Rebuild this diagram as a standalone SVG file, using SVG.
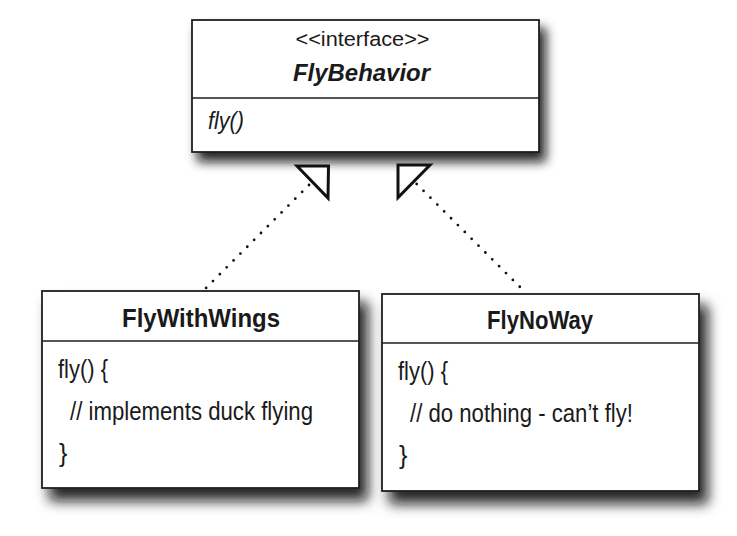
<svg xmlns="http://www.w3.org/2000/svg" width="737" height="536" viewBox="0 0 737 536">
<style>
.box{fill:#fff;stroke:#1e1e1e;stroke-width:1.8}
.div{stroke:#1e1e1e;stroke-width:1.5}
.t{font-family:"Liberation Sans",Arial,sans-serif;fill:#1a1a1a}
.title{font-size:25px;font-weight:bold}
.body{font-size:25px}
.dots{fill:none;stroke:#111;stroke-width:2.8;stroke-linecap:round;stroke-dasharray:0 9.7}
.tri{fill:#fff;stroke:#111;stroke-width:3;stroke-linejoin:miter}
</style>
<defs>
<filter id="sh1" x="-10%" y="-20%" width="130%" height="150%">
<feDropShadow dx="6" dy="9" stdDeviation="5.5" flood-color="#111" flood-opacity="0.9"/>
</filter>
<filter id="sh2" x="-10%" y="-20%" width="130%" height="150%">
<feDropShadow dx="8" dy="12" stdDeviation="6.5" flood-color="#111" flood-opacity="0.9"/>
</filter>
</defs>
<rect width="737" height="536" fill="#fff"/>
<g id="FlyBehavior">
<rect class="box" x="192" y="20" width="347" height="132" filter="url(#sh1)"/>
<line class="div" x1="192" y1="98" x2="539" y2="98"/>
<text class="t" x="362.5" y="46" font-size="20" text-anchor="middle" textLength="134" lengthAdjust="spacingAndGlyphs">&lt;&lt;interface&gt;&gt;</text>
<text class="t" x="361.5" y="81" font-size="24" font-weight="bold" font-style="italic" text-anchor="middle" textLength="137" lengthAdjust="spacingAndGlyphs">FlyBehavior</text>
<text class="t" x="208" y="129" font-size="23" font-style="italic" textLength="36" lengthAdjust="spacingAndGlyphs">fly()</text>
</g>
<g id="FlyWithWings">
<rect class="box" x="42" y="291" width="317" height="197" filter="url(#sh2)"/>
<line class="div" x1="42" y1="341" x2="359" y2="341"/>
<text class="t title" x="201" y="327" text-anchor="middle" textLength="158" lengthAdjust="spacingAndGlyphs">FlyWithWings</text>
<text class="t body" x="58" y="378" textLength="50" lengthAdjust="spacingAndGlyphs">fly() {</text>
<text class="t body" x="70" y="420" textLength="243" lengthAdjust="spacingAndGlyphs">// implements duck flying</text>
<text class="t body" x="59" y="462">}</text>
</g>
<g id="FlyNoWay">
<rect class="box" x="382" y="294" width="317" height="197" filter="url(#sh2)"/>
<line class="div" x1="382" y1="343" x2="699" y2="343"/>
<text class="t title" x="540" y="329" text-anchor="middle" textLength="106" lengthAdjust="spacingAndGlyphs">FlyNoWay</text>
<text class="t body" x="398" y="380" textLength="50" lengthAdjust="spacingAndGlyphs">fly() {</text>
<text class="t body" x="410" y="422" textLength="223" lengthAdjust="spacingAndGlyphs">// do nothing - can’t fly!</text>
<text class="t body" x="399" y="464">}</text>
</g>
<g id="connectors">
<line class="dots" x1="309" y1="185" x2="205.7" y2="288.3"/>
<polygon class="tri" points="297,166 328.5,166 328,198"/>
<line class="dots" x1="416.7" y1="184" x2="525.7" y2="292.7"/>
<polygon class="tri" points="398,165 430,165 398,197.5"/>
</g>
</svg>
